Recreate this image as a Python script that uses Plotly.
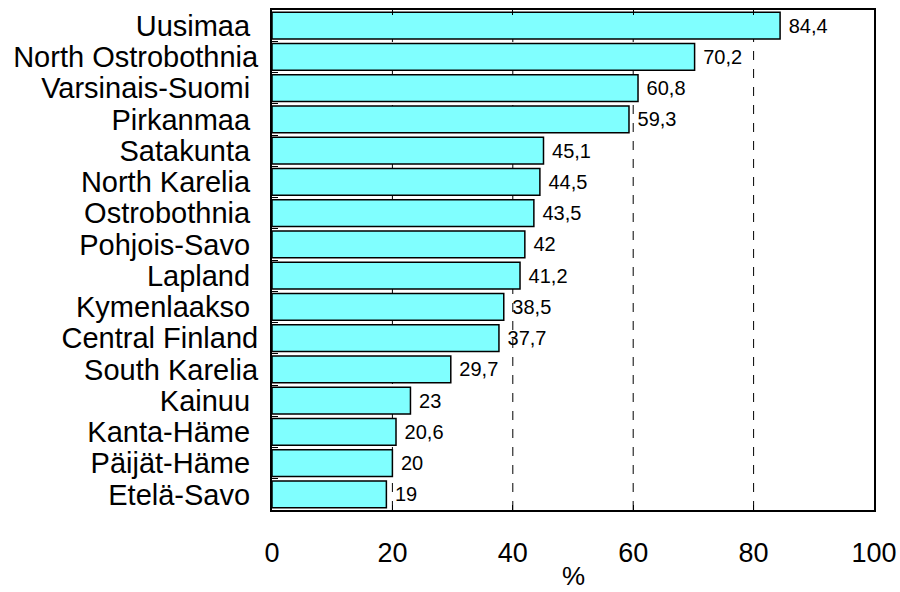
import plotly.graph_objects as go

regions = [
    "Uusimaa\u00a0", "North Ostrobothnia", "Varsinais-Suomi\u00a0", "Pirkanmaa\u00a0",
    "Satakunta\u00a0", "North Karelia\u00a0", "Ostrobothnia\u00a0", "Pohjois-Savo\u00a0",
    "Lapland\u00a0", "Kymenlaakso\u00a0", "Central Finland", "South Karelia",
    "Kainuu\u00a0", "Kanta-Häme\u00a0", "Päijät-Häme\u00a0", "Etelä-Savo\u00a0",
]
values = [84.4, 70.2, 60.8, 59.3, 45.1, 44.5, 43.5, 42, 41.2, 38.5, 37.7, 29.7, 23, 20.6, 20, 19]
x_ticks = [0, 20, 40, 60, 80, 100]
x_title = "%"

labels = ["\u00a0" + f"{v:g}".replace(".", ",") for v in values]

fig = go.Figure(go.Bar(
    x=values,
    y=regions,
    orientation="h",
    marker=dict(color="#80FFFF", line=dict(color="black", width=1.5)),
    text=labels,
    textposition="outside",
    textfont=dict(family="Liberation Sans, Arial", size=20, color="black"),
    cliponaxis=False,
))

# dashed reference lines at the inner ticks
for t in x_ticks[1:-1]:
    fig.add_vline(x=t, line=dict(color="black", width=1, dash="dash"), layer="below")

# axis title placed below the tick labels, kept inside the page
fig.add_annotation(
    text=x_title, xref="paper", yref="paper", x=0.5, y=0,
    xanchor="center", yanchor="bottom", yshift=-82, borderpad=0, showarrow=False,
    font=dict(family="Liberation Sans, Arial", size=26, color="black"),
)

fig.update_layout(
    width=900, height=592,
    margin=dict(l=272, r=26, t=10, b=82),
    plot_bgcolor="white", paper_bgcolor="white",
    bargap=0.15,
    showlegend=False,
    font=dict(family="Liberation Sans, Arial", color="black"),
    xaxis=dict(
        range=[0, 100], tickvals=x_ticks, showgrid=False, zeroline=False,
        showline=True, linecolor="black", linewidth=1.5, mirror="ticks",
        ticks="inside", ticklen=5, tickcolor="black",
        tickfont=dict(size=27), ticklabelstandoff=18,
        automargin=False,
    ),
    yaxis=dict(
        autorange="reversed", showgrid=False, zeroline=False,
        tickmode="array", tickvals=regions, ticktext=regions,
        showline=True, linecolor="black", linewidth=2, mirror=True,
        ticks="inside", tickson="boundaries", ticklen=6, tickcolor="black",
        tickfont=dict(size=29), ticklabelstandoff=6,
        automargin=False,
    ),
)

fig.write_html("out.html")
